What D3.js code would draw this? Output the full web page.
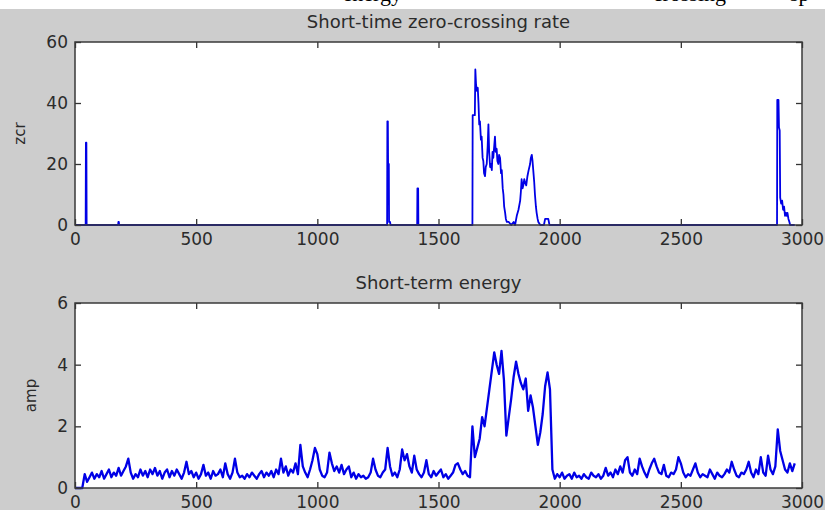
<!DOCTYPE html>
<html>
<head>
<meta charset="utf-8">
<script src="https://cdn.jsdelivr.net/npm/d3@7"></script>
<style>
  body { margin: 0; background: #fff; }
  svg { display: block; }
  .tick text { font-family: "DejaVu Sans", sans-serif; font-size: 17px; fill: #2b2b2b; }
  .tick line { stroke: #333; stroke-width: 1.3; }
  .domain { display: none; }
</style>
</head>
<body>
<div id="container"></div>
<script>
// data
const xTicks = [0, 500, 1000, 1500, 2000, 2500, 3000];
const zcrTicks = [0, 20, 40, 60];
const ampTicks = [0, 2, 4, 6];

// zero-crossing rate: sample index / value pairs
const zcrX = [0, 44, 45, 47, 48, 178, 179, 181, 182,
  1288, 1289, 1291, 1292, 1295, 1296, 1300, 1302,
  1412, 1413, 1416, 1417,
  1640, 1641, 1650, 1652, 1655, 1658, 1662, 1665, 1668, 1671, 1675, 1678, 1682, 1685, 1688, 1692, 1695, 1699,
  1703, 1706, 1709, 1713, 1716, 1720, 1723, 1726, 1730, 1733, 1736, 1740, 1743, 1747, 1750, 1754, 1758, 1761,
  1765, 1768, 1771, 1775, 1778, 1782, 1790, 1800, 1810, 1816, 1823, 1830, 1837, 1840, 1843, 1847, 1850, 1854,
  1857, 1862, 1867, 1872, 1878, 1881, 1885, 1888, 1891, 1895, 1898, 1902, 1905, 1909, 1912, 1920, 1935, 1940,
  1953, 1958,
  2897, 2898, 2903, 2905, 2908, 2910, 2914, 2918, 2922, 2926, 2930, 2934, 2937, 2940, 2944, 2948, 2951, 2970];
const zcrY = [0, 0, 27, 27, 0, 0, 1, 1, 0,
  0, 34, 34, 20, 20, 1, 1, 0,
  0, 12, 12, 0,
  0, 36, 36, 51, 46, 44, 45, 40, 33, 34, 28, 29, 22, 21, 17, 16, 19, 20,
  26, 33, 24, 19, 20, 18, 24, 22, 26, 29, 24, 25, 21, 20, 23, 22, 17, 18,
  12, 10, 6, 4, 2, 1, 1, 0, 1, 0, 3, 5, 8, 11, 15, 12, 13, 15,
  14, 13, 16, 18, 20, 22, 23, 21, 18, 14, 10, 6, 4, 2, 1, 0, 0, 2,
  2, 0,
  0, 41, 41, 32, 31, 9, 7, 8, 5, 6, 3, 4, 3, 4, 2, 1, 0, 0];

// short-term energy, one value every 10 samples from 0
const energyStep = 10;
const energy = [
  0, 0, 0, 0, 0.45, 0.2, 0.35, 0.5, 0.3, 0.45,
  0.35, 0.55, 0.3, 0.45, 0.6, 0.35, 0.5, 0.4, 0.65, 0.4,
  0.55, 0.7, 0.95, 0.5, 0.3, 0.45, 0.35, 0.6, 0.4, 0.55,
  0.35, 0.6, 0.45, 0.65, 0.4, 0.55, 0.3, 0.5, 0.6, 0.35,
  0.55, 0.4, 0.6, 0.45, 0.3, 0.5, 0.85, 0.45, 0.55, 0.35,
  0.5, 0.3, 0.45, 0.75, 0.4, 0.5, 0.3, 0.55, 0.4, 0.45,
  0.6, 0.35, 0.8, 0.45, 0.3, 0.5, 0.95, 0.5, 0.35, 0.4,
  0.3, 0.45, 0.35, 0.5, 0.4, 0.3, 0.45, 0.55, 0.35, 0.5,
  0.4, 0.55, 0.35, 0.6, 0.45, 0.95, 0.5, 0.7, 0.4, 0.6,
  0.5, 0.8, 0.45, 1.4, 0.7, 0.5, 0.35, 0.6, 0.9, 1.3,
  1.1, 0.6, 0.4, 0.35, 0.5, 1.15, 0.8, 0.55, 0.7, 0.5,
  0.75, 0.45, 0.6, 0.7, 0.35, 0.5, 0.3, 0.45, 0.35, 0.4,
  0.3, 0.35, 0.5, 0.95, 0.6, 0.4, 0.35, 0.5, 0.6, 1.3,
  0.7, 0.4, 0.5, 0.35, 0.6, 1.25, 0.9, 1.1, 0.7, 0.5,
  1.05, 0.6, 0.45, 0.35, 0.5, 0.9, 0.45, 0.35, 0.55, 0.4,
  0.5, 0.6, 0.35, 0.45, 0.3, 0.4, 0.5, 0.75, 0.8, 0.6,
  0.45, 0.55, 0.4, 0.35, 2.0, 1.0, 1.3, 1.6, 2.3, 2.0,
  2.6, 3.2, 3.8, 4.4, 4.0, 3.7, 4.45, 3.5, 1.7, 2.3,
  2.9, 3.6, 4.1, 3.7, 3.4, 3.2, 3.55, 2.5, 3.0, 2.6,
  2.0, 1.4, 1.8, 2.4, 3.3, 3.75, 3.2, 0.6, 0.3, 0.45,
  0.35, 0.5, 0.3, 0.4, 0.45, 0.3, 0.5, 0.35, 0.4, 0.3,
  0.45, 0.35, 0.3, 0.5, 0.4, 0.35, 0.45, 0.3, 0.4, 0.65,
  0.4, 0.5, 0.35, 0.6, 0.45, 0.7, 0.5, 0.9, 1.0, 0.5,
  0.4, 0.6, 0.45, 0.95, 0.7, 0.5, 0.35, 0.6, 0.8, 0.95,
  0.7, 0.5, 0.45, 0.75, 0.4, 0.35, 0.5, 0.45, 0.6, 1.0,
  0.8, 0.5, 0.35, 0.45, 0.4, 0.6, 0.8, 0.5, 0.35, 0.45,
  0.4, 0.35, 0.6, 0.45, 0.3, 0.5, 0.4, 0.35, 0.45, 0.6,
  0.5, 0.85, 0.6, 0.4, 0.35, 0.5, 0.45, 0.6, 0.85, 0.5,
  0.35, 0.6, 0.45, 1.0, 0.5, 0.4, 1.05, 0.6, 0.45, 0.7,
  1.9, 1.2, 0.9, 0.6, 0.5, 0.8, 0.55, 0.8
];

const WIDTH = 825;
const HEIGHT = 510;
const LEFT = 75;
const RIGHT = 802;
const TICK = 6;

const svg = d3.select("#container")
  .append("svg")
  .attr("width", WIDTH)
  .attr("height", HEIGHT);

// figure background and the bit of page text above it
svg.append("rect").attr("width", WIDTH).attr("height", HEIGHT).attr("fill", "#fff");
svg.append("rect").attr("y", 9).attr("width", WIDTH).attr("height", HEIGHT - 9).attr("fill", "#cdcdcd");
const pageText = svg.append("g")
  .attr("font-family", "Liberation Serif, serif")
  .attr("font-size", 22)
  .attr("fill", "#000");
pageText.append("text").attr("x", 402).attr("y", 1).attr("text-anchor", "end").text("energy");
pageText.append("text").attr("x", 726).attr("y", 1).attr("text-anchor", "end").text("crossing");
pageText.append("text").attr("x", 790).attr("y", 1).text("sp");

const xScale = d3.scaleLinear().domain([0, 3000]).range([LEFT, RIGHT]);
const fmt = d3.format("d");

const drawPanel = (top, bottom, yMax, yTickVals, title, label, labelX, xs, ys, lineWidth) => {
  const yScale = d3.scaleLinear().domain([0, yMax]).range([bottom, top]);
  const g = svg.append("g");

  g.append("rect")
    .attr("x", LEFT).attr("y", top)
    .attr("width", RIGHT - LEFT).attr("height", bottom - top)
    .attr("fill", "#fff");

  const line = d3.line()
    .x((d, i) => xScale(xs[i]))
    .y((d) => yScale(d));

  g.append("path")
    .datum(ys)
    .attr("d", line)
    .attr("fill", "none")
    .attr("stroke", "#0000e6")
    .attr("stroke-width", lineWidth)
    .attr("stroke-linejoin", "round");

  g.append("g")
    .attr("transform", "translate(0," + bottom + ")")
    .call(d3.axisBottom(xScale).tickValues(xTicks).tickFormat(fmt).tickSizeInner(-TICK).tickSizeOuter(0).tickPadding(8));
  g.append("g")
    .attr("transform", "translate(0," + top + ")")
    .call(d3.axisTop(xScale).tickValues(xTicks).tickSizeInner(-TICK).tickSizeOuter(0).tickFormat(""));
  g.append("g")
    .attr("transform", "translate(" + LEFT + ",0)")
    .call(d3.axisLeft(yScale).tickValues(yTickVals).tickFormat(fmt).tickSizeInner(-TICK).tickSizeOuter(0).tickPadding(7));
  g.append("g")
    .attr("transform", "translate(" + RIGHT + ",0)")
    .call(d3.axisRight(yScale).tickValues(yTickVals).tickSizeInner(-TICK).tickSizeOuter(0).tickFormat(""));

  g.append("rect")
    .attr("x", LEFT).attr("y", top)
    .attr("width", RIGHT - LEFT).attr("height", bottom - top)
    .attr("fill", "none")
    .attr("stroke", "#3a3a3a")
    .attr("stroke-width", 1.5);

  g.append("text")
    .attr("x", (LEFT + RIGHT) / 2)
    .attr("y", top - 14)
    .attr("text-anchor", "middle")
    .attr("font-family", "DejaVu Sans, sans-serif")
    .attr("font-size", 18)
    .attr("fill", "#2b2b2b")
    .text(title);

  g.append("text")
    .attr("transform", "translate(" + labelX + "," + ((top + bottom) / 2) + ") rotate(-90)")
    .attr("text-anchor", "middle")
    .attr("dy", "0.35em")
    .attr("font-family", "DejaVu Sans, sans-serif")
    .attr("font-size", 15)
    .attr("fill", "#2b2b2b")
    .text(label);
};

drawPanel(42, 225, 60, zcrTicks, "Short-time zero-crossing rate", "zcr", 20, zcrX, zcrY, 1.8);
drawPanel(303, 488, 6, ampTicks, "Short-term energy", "amp", 31,
  energy.map((d, i) => i * energyStep), energy, 2.3);
</script>
</body>
</html>
